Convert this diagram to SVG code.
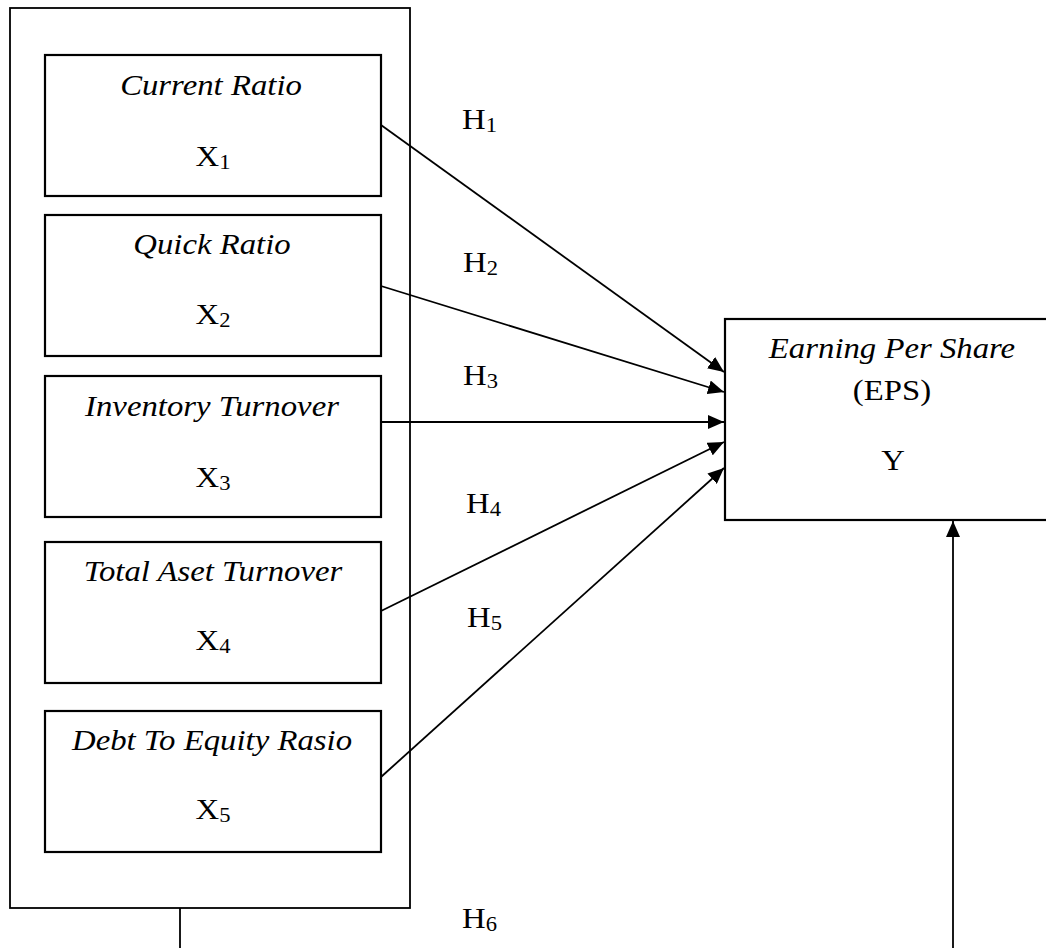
<svg xmlns="http://www.w3.org/2000/svg" width="1046" height="948" viewBox="0 0 1046 948">
<style>
  .box { fill: #fff; stroke: #000; stroke-width: 2.2; }
  .outer { fill: #fff; stroke: #000; stroke-width: 1.8; }
  .t { font-family: "Liberation Serif", "Times New Roman", serif; font-size: 29px; fill: #000; }
  .i { font-style: italic; }
  .m { text-anchor: middle; }
  .sub { font-size: 20px; }
  .c { stroke: #000; stroke-width: 1.8; fill: none; }
</style>
<defs>
  <marker id="ah" viewBox="0 0 16 14" refX="16" refY="7" markerWidth="16" markerHeight="14" markerUnits="userSpaceOnUse" orient="auto">
    <path d="M0,0 L16,7 L0,14 Z" fill="#000"/>
  </marker>
</defs>

<g id="group-x">
  <rect class="outer" x="10" y="8" width="400" height="900"/>
</g>

<g id="x1">
  <rect class="box" x="45" y="55" width="336" height="141"/>
  <text class="t i m" transform="matrix(1.13 0 0 1 211 95)">Current Ratio</text>
  <text class="t m" transform="matrix(1.13 0 0 1 213 166)">X<tspan class="sub" dy="3">1</tspan></text>
</g>
<g id="x2">
  <rect class="box" x="45" y="215" width="336" height="141"/>
  <text class="t i m" transform="matrix(1.13 0 0 1 212 254)">Quick Ratio</text>
  <text class="t m" transform="matrix(1.13 0 0 1 213 324)">X<tspan class="sub" dy="3">2</tspan></text>
</g>
<g id="x3">
  <rect class="box" x="45" y="376" width="336" height="141"/>
  <text class="t i m" transform="matrix(1.13 0 0 1 212 416)">Inventory Turnover</text>
  <text class="t m" transform="matrix(1.13 0 0 1 213 487)">X<tspan class="sub" dy="3">3</tspan></text>
</g>
<g id="x4">
  <rect class="box" x="45" y="542" width="336" height="141"/>
  <text class="t i m" transform="matrix(1.13 0 0 1 213 581)">Total Aset Turnover</text>
  <text class="t m" transform="matrix(1.13 0 0 1 213 650)">X<tspan class="sub" dy="3">4</tspan></text>
</g>
<g id="x5">
  <rect class="box" x="45" y="711" width="336" height="141"/>
  <text class="t i m" transform="matrix(1.13 0 0 1 212 750)">Debt To Equity Rasio</text>
  <text class="t m" transform="matrix(1.13 0 0 1 213 819)">X<tspan class="sub" dy="3">5</tspan></text>
</g>

<g id="y">
  <rect class="box" x="725" y="319" width="340" height="201"/>
  <text class="t i m" transform="matrix(1.13 0 0 1 892 358)">Earning Per Share</text>
  <text class="t m" transform="matrix(1.13 0 0 1 892 400)">(EPS)</text>
  <text class="t m" transform="matrix(1.13 0 0 1 893 470)">Y</text>
</g>

<g id="connectors">
  <line class="c" x1="381" y1="125" x2="724" y2="372" marker-end="url(#ah)"/>
  <line class="c" x1="381" y1="286" x2="724" y2="392" marker-end="url(#ah)"/>
  <line class="c" x1="381" y1="422" x2="724" y2="422" marker-end="url(#ah)"/>
  <line class="c" x1="381" y1="611" x2="724" y2="442" marker-end="url(#ah)"/>
  <line class="c" x1="381" y1="777" x2="724" y2="468" marker-end="url(#ah)"/>
  <line class="c" x1="180" y1="908" x2="180" y2="948"/>
  <line class="c" x1="953" y1="948" x2="953" y2="521" marker-end="url(#ah)"/>
</g>

<g id="labels">
  <text class="t" transform="matrix(1.13 0 0 1 462 129)">H<tspan class="sub" dy="3">1</tspan></text>
  <text class="t" transform="matrix(1.13 0 0 1 463 272)">H<tspan class="sub" dy="3">2</tspan></text>
  <text class="t" transform="matrix(1.13 0 0 1 463 385)">H<tspan class="sub" dy="3">3</tspan></text>
  <text class="t" transform="matrix(1.13 0 0 1 466 513)">H<tspan class="sub" dy="3">4</tspan></text>
  <text class="t" transform="matrix(1.13 0 0 1 467 627)">H<tspan class="sub" dy="3">5</tspan></text>
  <text class="t" transform="matrix(1.13 0 0 1 462 928)">H<tspan class="sub" dy="3">6</tspan></text>
</g>
</svg>
